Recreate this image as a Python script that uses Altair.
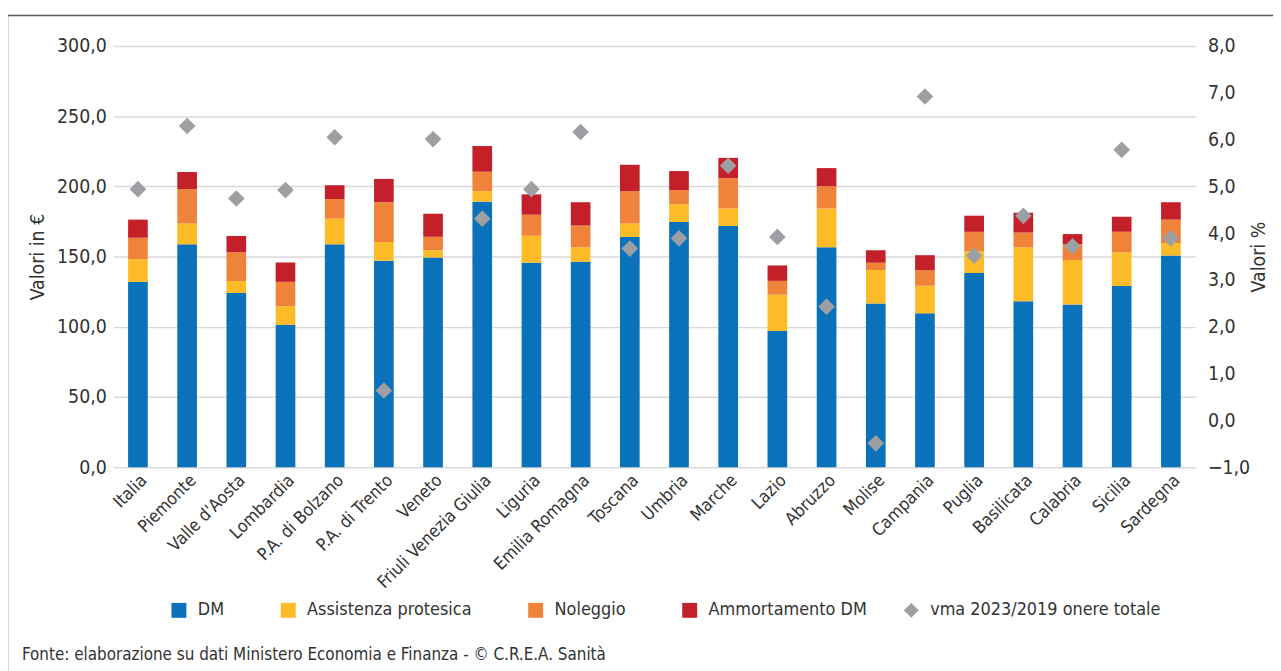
import altair as alt
import pandas as pd

regions = ["Italia", "Piemonte", "Valle d'Aosta", "Lombardia", "P.A. di Bolzano", "P.A. di Trento",
           "Veneto", "Friuli Venezia Giulia", "Liguria", "Emilia Romagna", "Toscana", "Umbria",
           "Marche", "Lazio", "Abruzzo", "Molise", "Campania", "Puglia", "Basilicata", "Calabria",
           "Sicilia", "Sardegna"]
dm = [132.0, 158.7, 124.1, 101.4, 158.7, 147.0, 149.3, 189.1, 145.6, 146.3, 163.9, 174.6,
      171.8, 97.1, 156.6, 116.6, 109.6, 138.3, 118.2, 115.9, 129.0, 150.7]
assistenza = [16.2, 14.8, 8.6, 13.3, 18.3, 13.3, 5.2, 7.5, 19.2, 10.3, 9.6, 12.7,
              12.4, 25.8, 27.6, 23.8, 19.6, 15.5, 38.4, 31.6, 24.1, 8.9]
noleggio = [15.2, 24.5, 20.4, 17.3, 14.0, 28.4, 9.6, 13.8, 15.0, 15.5, 23.1, 10.0,
            21.6, 9.8, 15.9, 5.2, 11.0, 13.8, 10.5, 11.4, 14.5, 16.7]
ammortamento = [12.9, 12.2, 11.5, 13.8, 9.8, 16.6, 16.4, 18.3, 14.5, 16.6, 18.8, 13.6,
                14.5, 11.0, 12.9, 8.9, 10.8, 11.5, 14.1, 7.1, 10.8, 12.4]
vma = [4.94, 6.29, 4.74, 4.92, 6.05, 0.64, 6.01, 4.31, 4.94, 6.16, 3.67, 3.89,
       5.44, 3.92, 2.43, -0.49, 6.92, 3.52, 4.37, 3.72, 5.78, 3.89]

bar_series = ["DM", "Assistenza protesica", "Noleggio", "Ammortamento DM"]
bar_colors = ["#0A72BA", "#FDBC27", "#F0833A", "#C4202A"]
point_series = ["vma 2023/2019 onere totale"]
point_color = "#9D9FA2"
left_ticks = [0, 50, 100, 150, 200, 250, 300]
right_ticks = [-1, 0, 1, 2, 3, 4, 5, 6, 7, 8]
source_text = "Fonte: elaborazione su dati Ministero Economia e Finanza - © C.R.E.A. Sanità"

rows = []
for i, r in enumerate(regions):
    for k, vals in enumerate([dm, assistenza, noleggio, ammortamento]):
        rows.append({"regione": r, "serie": bar_series[k], "valore": vals[i], "ordine": k})
bars_df = pd.DataFrame(rows)
pts_df = pd.DataFrame({"regione": regions, "vma": vma, "serie": point_series[0]})

FONT = "Liberation Sans Narrow, DejaVu Sans Condensed, Liberation Sans, sans-serif"
TXT = "#333333"
W, H = 1089, 424
comma = "replace(format(datum.value, '.1f'), '.', ',')"

x_enc = alt.X("regione:N", sort=regions,
              scale=alt.Scale(paddingInner=0.6, paddingOuter=0.3),
              axis=alt.Axis(title=None, labelAngle=-45, labelAlign="right", labelBaseline="top",
                            labelPadding=4, labelFontSize=17.5, domain=False, ticks=False,
                            labelColor=TXT, labelFont=FONT))

legend_common = dict(title=None, orient="none", direction="horizontal", symbolSize=225,
                     labelFontSize=18, labelFont=FONT, labelColor=TXT, labelOffset=10,
                     symbolStrokeWidth=0, padding=0, labelLimit=400)

bars = alt.Chart(bars_df).mark_bar().encode(
    x=x_enc,
    y=alt.Y("valore:Q", stack="zero", scale=alt.Scale(domain=[0, 300], nice=False),
            axis=alt.Axis(title="Valori in €", values=left_ticks, labelExpr=comma, grid=True,
                          gridColor="#D9D9D9", gridWidth=1.5, domain=False, ticks=False,
                          labelPadding=7, titleX=-76, titleY=212, titleAngle=270,
                          titleAlign="center", titleBaseline="middle")),
    color=alt.Color("serie:N", scale=alt.Scale(domain=bar_series, range=bar_colors),
                    legend=alt.Legend(legendX=57, legendY=559, columns=4, columnPadding=55,
                                      symbolType="square", **legend_common)),
    order=alt.Order("ordine:Q", sort="ascending"),
)

points = alt.Chart(pts_df).mark_point(filled=True, opacity=1, size=280, color=point_color).encode(
    x=alt.X("regione:N", sort=regions),
    y=alt.Y("vma:Q", scale=alt.Scale(domain=[-1, 8], nice=False),
            axis=alt.Axis(orient="right", title="Valori %", values=right_ticks, labelExpr=comma,
                          grid=False, domain=False, ticks=False, labelPadding=12,
                          titleX=63, titleY=212, titleAngle=270, titleAlign="center",
                          titleBaseline="middle")),
    shape=alt.Shape("serie:N", scale=alt.Scale(domain=point_series, range=["diamond"]),
                    legend=alt.Legend(legendX=794, legendY=559, columns=1,
                                      symbolFillColor=point_color, **legend_common)),
)

one = pd.DataFrame({"t": [source_text]})
top_rule = alt.Chart(one).mark_rule(color="#595959", strokeWidth=1.5).encode(
    x=alt.value(-106), x2=alt.value(1400), y=alt.value(-30.5))
left_rule = alt.Chart(one).mark_rule(color="#595959", strokeWidth=1.5).encode(
    x=alt.value(-106.5), y=alt.value(-30.5), y2=alt.value(800))
source = alt.Chart(one).mark_text(align="left", baseline="alphabetic", fontSize=17,
                                  font=FONT, color=TXT).encode(
    x=alt.value(-92), y=alt.value(618), text="t:N")

chart = alt.layer(bars, points, top_rule, left_rule, source).resolve_scale(
    y="independent"
).properties(
    width=W, height=H,
    autosize=alt.AutoSizeParams(type="none"),
    padding={"left": 106, "top": 36, "right": 78, "bottom": 220},
).configure_view(stroke=None).configure_axis(
    labelFont=FONT, titleFont=FONT, labelFontSize=19.5, titleFontSize=19.5,
    titleFontWeight="normal", labelColor=TXT, titleColor=TXT
)

chart.save("out.html", embed_options={"renderer": "svg", "actions": False})
